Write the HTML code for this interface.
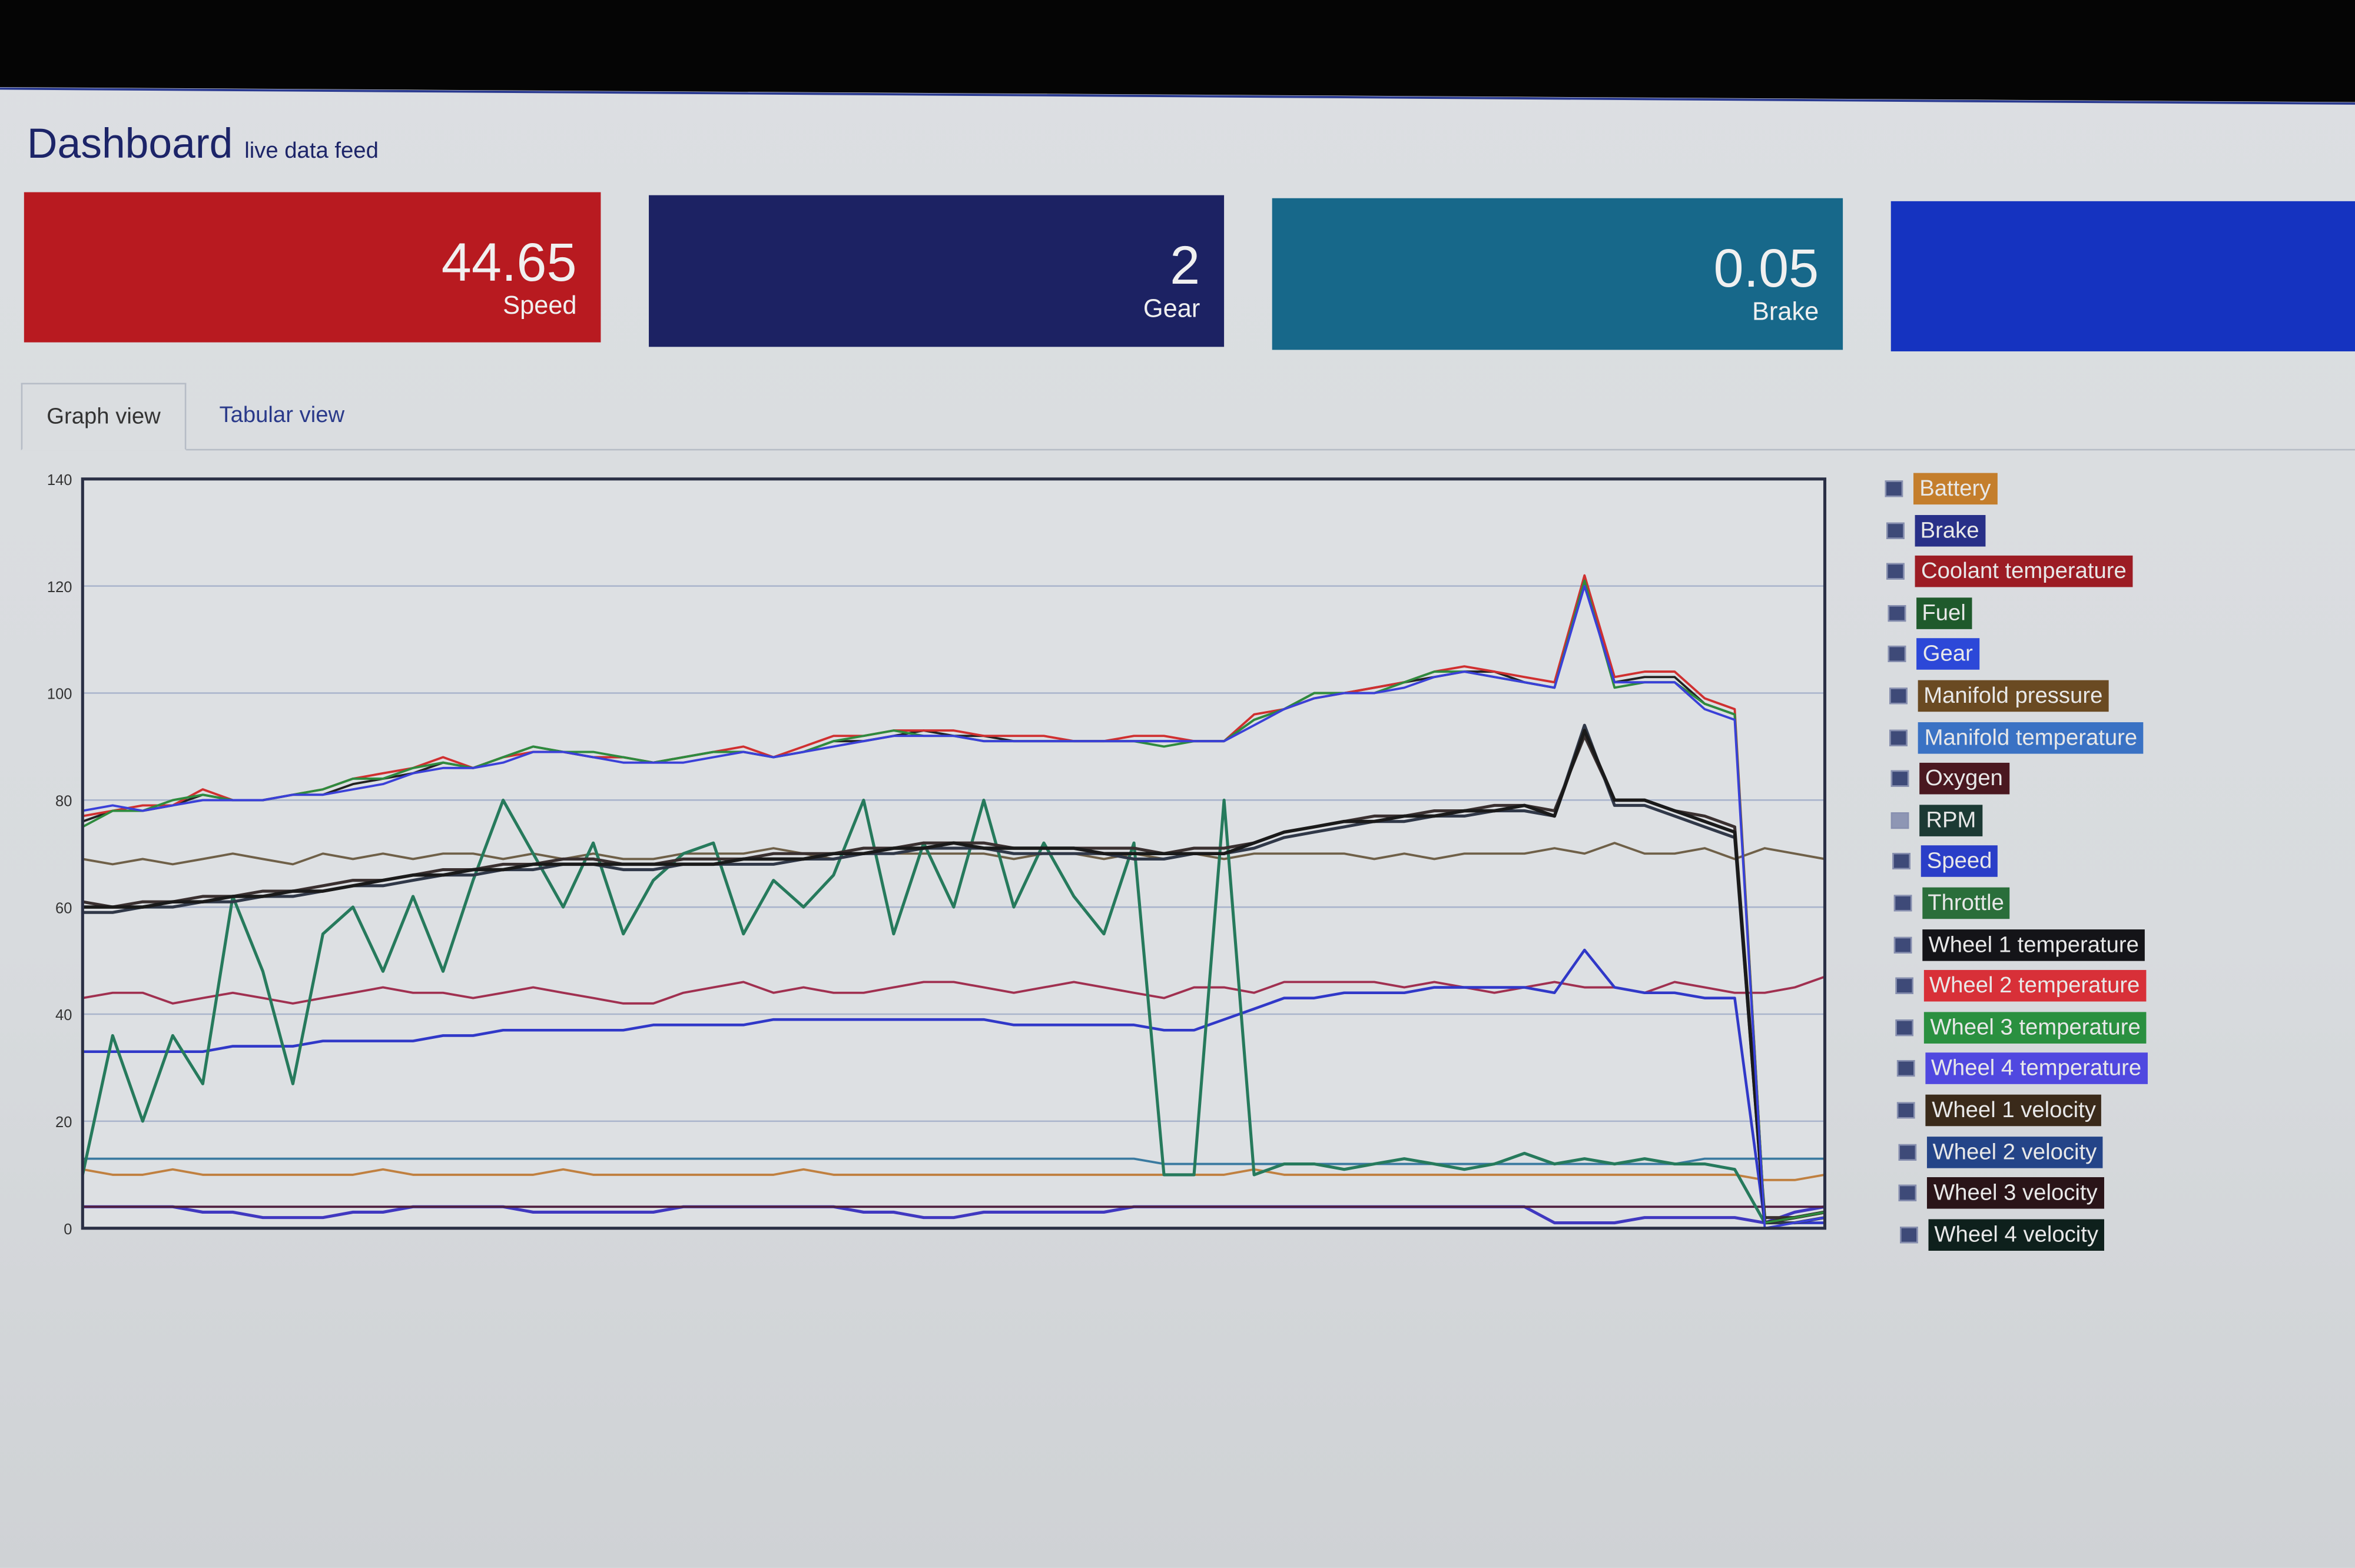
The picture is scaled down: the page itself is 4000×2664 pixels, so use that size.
<!DOCTYPE html>
<html><head><meta charset="utf-8">
<style>
html,body{margin:0;padding:0;width:4000px;height:2664px;overflow:hidden;background:#d6d9dc;}
#stage{position:absolute;left:0;top:0;width:1568px;height:1044px;transform:scale(2.5510204);transform-origin:0 0;
 background:linear-gradient(180deg,#dcdfe2 0%,#d8dbde 60%,#cfd2d5 100%);font-family:"Liberation Sans",sans-serif;}
#topband{position:absolute;left:0;top:0;width:1568px;height:70px;}
.card{position:absolute;color:#f0f0f0;text-align:right;}
.card .v{position:absolute;right:16px;top:26px;font-size:36px;}
.card .l{position:absolute;right:16px;top:66px;font-size:17px;}
.leg{position:absolute;height:21px;line-height:21px;font-size:15px;color:#e8e8e8;padding:0 4px;}
.cb{position:absolute;width:10px;height:9px;background:#3e4a78;border:1px solid #8890b0;}
</style></head><body>
<div id="stage">
<svg id="topband" width="1568" height="70"><polygon points="0,0 1568,0 1568,68 0,58" fill="#050505"/><line x1="0" y1="59" x2="1568" y2="69" stroke="#2a3a90" stroke-width="1.5"/></svg>
<div style="position:absolute;left:18px;top:80px;font-size:28px;color:#1c2468;">Dashboard <span style="font-size:15px;">live data feed</span></div>

<div class="card" style="left:16px;top:128px;width:384px;height:100px;background:#b81a20;"><div class="v">44.65</div><div class="l">Speed</div></div>
<div class="card" style="left:432px;top:130px;width:383px;height:101px;background:#1c2263;"><div class="v">2</div><div class="l">Gear</div></div>
<div class="card" style="left:847px;top:132px;width:380px;height:101px;background:#17688a;"><div class="v">0.05</div><div class="l">Brake</div></div>
<div class="card" style="left:1259px;top:134px;width:309px;height:100px;background:#1533c0;"></div>

<div style="position:absolute;left:14px;top:299px;width:1554px;height:1px;background:#b6bcc6;"></div>
<div style="position:absolute;left:14px;top:255px;width:110px;height:45px;border:1px solid #b6bcc6;border-bottom:1px solid #dadde0;background:#dadde0;font-size:15px;color:#333;line-height:43px;text-align:center;box-sizing:border-box;">Graph view</div>
<div style="position:absolute;left:146px;top:255px;height:45px;font-size:15px;color:#2a3a8a;line-height:43px;">Tabular view</div>

<svg id="chart" style="position:absolute;left:0;top:0" width="1568" height="1044"></svg>
<div id="legend"></div>
</div>
<script>
const t=[...Array(59).keys()];
const yTicks=[0,20,40,60,80,100,120,140];
const battery=[11,10,10,11,10,10,10,10,10,10,11,10,10,10,10,10,11,10,10,10,10,10,10,10,11,10,10,10,10,10,10,10,10,10,10,10,10,10,10,11,10,10,10,10,10,10,10,10,10,10,10,10,10,10,10,10,9,9,10];
const brake=[4,4,4,4,3,3,2,2,2,3,3,4,4,4,4,3,3,3,3,3,4,4,4,4,4,4,3,3,2,2,3,3,3,3,3,4,4,4,4,4,4,4,4,4,4,4,4,4,4,1,1,1,2,2,2,2,1,3,4];
const coolant=[43,44,44,42,43,44,43,42,43,44,45,44,44,43,44,45,44,43,42,42,44,45,46,44,45,44,44,45,46,46,45,44,45,46,45,44,43,45,45,44,46,46,46,46,45,46,45,44,45,46,45,45,44,46,45,44,44,45,47];
const fuel=[13,13,13,13,13,13,13,13,13,13,13,13,13,13,13,13,13,13,13,13,13,13,13,13,13,13,13,13,13,13,13,13,13,13,13,13,12,12,12,12,12,12,12,12,12,12,12,12,12,12,12,12,12,12,13,13,13,13,13];
const manifoldPressure=[69,68,69,68,69,70,69,68,70,69,70,69,70,70,69,70,69,70,69,69,70,70,70,71,70,69,70,70,70,70,70,69,70,70,69,70,69,70,69,70,70,70,70,69,70,69,70,70,70,71,70,72,70,70,71,69,71,70,69];
const manifoldTemp=[33,33,33,33,33,34,34,34,35,35,35,35,36,36,37,37,37,37,37,38,38,38,38,39,39,39,39,39,39,39,39,38,38,38,38,38,37,37,39,41,43,43,44,44,44,45,45,45,45,44,52,45,44,44,43,43,1,1,1];
const throttle=[10,36,20,36,27,62,48,27,55,60,48,62,48,65,80,70,60,72,55,65,70,72,55,65,60,66,80,55,72,60,80,60,72,62,55,72,10,10,80,10,12,12,11,12,13,12,11,12,14,12,13,12,13,12,12,11,1,2,3];
const oxygen=[4,4,4,4,4,4,4,4,4,4,4,4,4,4,4,4,4,4,4,4,4,4,4,4,4,4,4,4,4,4,4,4,4,4,4,4,4,4,4,4,4,4,4,4,4,4,4,4,4,4,4,4,4,4,4,4,4,4,4];
const w1temp=[76,78,78,79,81,80,80,81,81,83,84,85,87,86,88,90,89,88,88,87,88,89,89,88,89,91,91,92,93,92,92,91,91,91,91,91,91,91,91,95,97,100,100,101,102,103,104,104,102,101,121,102,103,103,98,96,1,2,3];
const w2temp=[77,78,79,79,82,80,80,81,82,84,85,86,88,86,88,89,89,88,88,87,88,89,90,88,90,92,92,93,93,93,92,92,92,91,91,92,92,91,91,96,97,99,100,101,102,104,105,104,103,102,122,103,104,104,99,97,1,2,3];
const w3temp=[75,78,78,80,81,80,80,81,82,84,84,86,87,86,88,90,89,89,88,87,88,89,89,88,89,91,92,93,92,92,91,91,91,91,91,91,90,91,91,95,97,100,100,100,102,104,104,103,102,101,121,101,102,102,98,96,1,2,3];
const w4temp=[78,79,78,79,80,80,80,81,81,82,83,85,86,86,87,89,89,88,87,87,87,88,89,88,89,90,91,92,92,92,91,91,91,91,91,91,91,91,91,94,97,99,100,100,101,103,104,103,102,101,120,102,102,102,97,95,0,1,2];
const w1vel=[60,60,60,61,61,62,62,63,63,64,65,66,66,67,67,68,68,68,68,68,68,68,69,69,69,70,70,71,71,72,71,71,71,71,70,70,70,70,70,72,74,75,76,76,77,77,78,78,79,77,93,80,80,78,76,74,1,2,3];
const w2vel=[59,59,60,60,61,61,62,62,63,64,64,65,66,66,67,67,68,68,67,67,68,68,68,68,69,69,70,70,71,71,71,70,70,70,70,69,69,70,70,71,73,74,75,76,76,77,77,78,78,77,94,79,79,77,75,73,1,1,2];
const w3vel=[61,60,61,61,62,62,63,63,64,65,65,66,67,67,68,68,69,69,68,68,69,69,69,70,70,70,71,71,72,72,72,71,71,71,71,71,70,71,71,72,74,75,76,77,77,78,78,79,79,78,92,80,80,78,77,75,2,2,3];

const X0=55,X1=1215,Y0=818,Y1=319;
const xs=i=>X0+(X1-X0)*i/(t.length-1);
const ys=v=>Y0-(Y0-Y1)*v/140;
const NS="http://www.w3.org/2000/svg";
const svg=document.getElementById('chart');
function mk(tag,attrs){const e=document.createElementNS(NS,tag);for(const k in attrs)e.setAttribute(k,attrs[k]);svg.appendChild(e);return e;}
const bg=mk('rect',{x:X0,y:Y1,width:X1-X0,height:Y0-Y1,fill:'#dde0e3'});


yTicks.forEach(v=>{
 const g=mk('line',{x1:X0,x2:X1,y1:ys(v),y2:ys(v),stroke:'#a9b4cc','stroke-width':1});
 
 
 const tx=mk('text',{x:48,y:ys(v)+4,'font-size':10,'text-anchor':'end',fill:'#333','font-family':'Liberation Sans, sans-serif'});
 tx.textContent=v;
 
 
});
const series=[
 ['battery',battery,'#c08040',1.5],['brake',brake,'#4038c0',2],['oxygen',oxygen,'#502040',1.5],
 ['fuel',fuel,'#3a7aa0',1.5],['coolant',coolant,'#a03050',1.5],['manifold-pressure',manifoldPressure,'#6f6048',1.5],
 ['manifold-temperature',manifoldTemp,'#3038c8',1.8],['throttle',throttle,'#267a5c',2],
 ['wheel-3-velocity',w3vel,'#3a3030',2],['wheel-2-velocity',w2vel,'#303848',2],['wheel-1-velocity',w1vel,'#1a1a1a',2.2],
 ['wheel-1-temperature',w1temp,'#222',1.5],['wheel-2-temperature',w2temp,'#d03030',1.5],['wheel-3-temperature',w3temp,'#2e8b3e',1.5],['wheel-4-temperature',w4temp,'#3a40d8',1.5]
];
series.forEach(([n,arr,c,w])=>{
 let d='';arr.forEach((v,i)=>{d+=(i?'L':'M')+xs(t[i]).toFixed(1)+','+ys(v).toFixed(1);});
 const p=mk('path',{d:d,fill:'none',stroke:c,'stroke-width':w,'stroke-linejoin':'round'});
 
 
});
const fr=mk('rect',{x:X0,y:Y1,width:X1-X0,height:Y0-Y1,fill:'none',stroke:'#2a2f45','stroke-width':2});



const legNames=['Battery','Brake','Coolant temperature','Fuel','Gear','Manifold pressure','Manifold temperature','Oxygen','RPM','Speed','Throttle','Wheel 1 temperature','Wheel 2 temperature','Wheel 3 temperature','Wheel 4 temperature','Wheel 1 velocity','Wheel 2 velocity','Wheel 3 velocity','Wheel 4 velocity'];
const legColors=['#c47e2c','#283088','#9c1c24','#1f5a2c','#2c48d8','#6a4a22','#3a72c4','#4a1820','#1c3a34','#2a3ec8','#2a6e3a','#141418','#d83038','#2a9040','#5048e0','#3a2a1a','#244488','#2a1418','#0e201c'];
const leg=document.getElementById('legend');
legNames.forEach((n,i)=>{
 const y=315+i*27.6, dx=i*0.55;
 const cb=document.createElement('div');cb.className='cb';
 cb.style.left=(1255+dx)+'px';cb.style.top=(y+5)+'px';
 if(n==='RPM'){cb.style.background='#8e96b4';}
 
 
 leg.appendChild(cb);
 const l=document.createElement('div');l.className='leg';l.textContent=n;
 l.style.left=(1274+dx)+'px';l.style.top=y+'px';l.style.background=legColors[i];
 
 
 leg.appendChild(l);
});
</script>
</body></html>
